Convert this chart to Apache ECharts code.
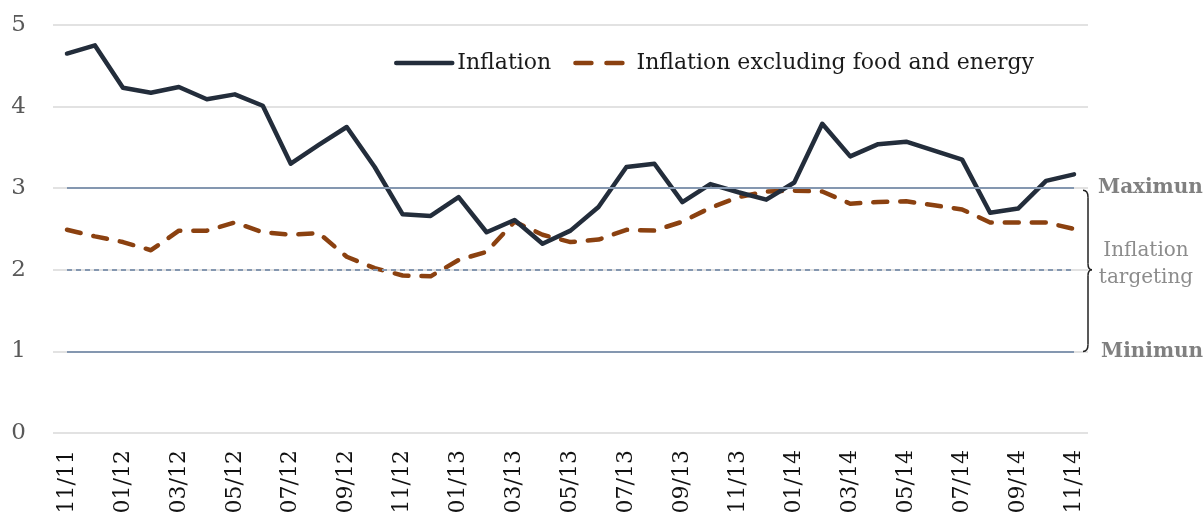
<!DOCTYPE html>
<html>
<head>
<meta charset="utf-8">
<script src="https://cdn.jsdelivr.net/npm/echarts@6/dist/echarts.min.js"></script>
<style>
html,body{margin:0;padding:0;background:#fff;}
#main{width:1203px;height:518px;}
</style>
</head>
<body>
<div id="main"></div>
<script>
const categories = ['11/11','12/11','01/12','02/12','03/12','04/12','05/12','06/12','07/12','08/12','09/12','10/12',
  '11/12','12/12','01/13','02/13','03/13','04/13','05/13','06/13','07/13','08/13','09/13','10/13',
  '11/13','12/13','01/14','02/14','03/14','04/14','05/14','06/14','07/14','08/14','09/14','10/14','11/14'];
const inflation = [4.65,4.75,4.23,4.17,4.24,4.09,4.15,4.01,3.30,3.53,3.75,3.26,
  2.68,2.66,2.89,2.46,2.61,2.32,2.48,2.77,3.26,3.30,2.83,3.05,
  2.95,2.86,3.07,3.79,3.39,3.54,3.57,3.46,3.35,2.70,2.75,3.09,3.17];
const inflationCore = [2.49,2.41,2.34,2.24,2.48,2.48,2.58,2.46,2.43,2.45,2.16,2.02,
  1.93,1.92,2.12,2.22,2.59,2.43,2.34,2.37,2.49,2.48,2.59,2.76,
  2.89,2.96,2.97,2.96,2.81,2.83,2.84,2.79,2.74,2.58,2.58,2.58,2.50];
const seriesNames = ['Inflation','Inflation excluding food and energy'];
const targetValues = [3, 2, 1];          // maximum, target, minimum
const targetLabels = ['Maximun', 'Inflation\ntargeting', 'Minimun'];
const yTicks = [0,1,2,3,4,5];

const serif = 'DejaVu Serif';
const chart = echarts.init(document.getElementById('main'), null, {renderer:'canvas'});
const first = categories[0], last = categories[categories.length-1];
const refColor = '#8497b0';
const navy = '#232d3b', brown = '#8b4110';

const option = {
  animation:false,
  backgroundColor:'#fff',
  grid:{left:53, right:115, top:25, bottom:85},
  legend:{
    data:[
      {name:seriesNames[0], itemStyle:{opacity:0}, lineStyle:{width:4.5, color:navy, cap:'round'}},
      {name:seriesNames[1], itemStyle:{opacity:0}, lineStyle:{width:4.5, color:brown, type:[16,15], cap:'round'}}
    ],
    top:47, left:389,
    itemWidth:56, itemHeight:14, itemGap:22,
    textStyle:{fontFamily:serif, fontSize:22, color:'#1a1a1a'}
  },
  xAxis:{
    type:'category', data:categories, boundaryGap:true,
    axisLine:{show:false}, axisTick:{show:false},
    axisLabel:{interval:1, rotate:90, margin:17, fontFamily:serif, fontSize:22, color:'#111'}
  },
  yAxis:{
    type:'value', min:yTicks[0], max:yTicks[yTicks.length-1], interval:1,
    axisLine:{show:false}, axisTick:{show:false},
    axisLabel:{margin:27, fontFamily:serif, fontSize:23, color:'#595959'},
    splitLine:{lineStyle:{color:'#d9d9d9', width:1.5}}
  },
  series:[
    {
      name:'refs', type:'line', data:[], z:1, silent:true,
      markLine:{
        silent:true, symbol:['none','none'], label:{show:false},
        data:targetValues.map((v,i)=>[
          {coord:[first, v], lineStyle:{color:refColor, width:2, type: i===1 ? [5,4] : 'solid'}},
          {coord:[last, v]}
        ])
      }
    },
    {
      name:seriesNames[0], type:'line', data:inflation, z:3,
      symbol:'none', color:navy,
      lineStyle:{width:4.5, color:navy, cap:'round', join:'round'}
    },
    {
      name:seriesNames[1], type:'line', data:inflationCore, z:2,
      symbol:'none', color:brown,
      lineStyle:{width:4.5, color:brown, type:[14,13], cap:'round', join:'round'}
    }
  ]
};
chart.setOption(option);

// right-side annotations positioned from the axis scale
const pMax = chart.convertToPixel({gridIndex:0}, [last, targetValues[0]]);
const pMid = chart.convertToPixel({gridIndex:0}, [last, targetValues[1]]);
const pMin = chart.convertToPixel({gridIndex:0}, [last, targetValues[2]]);
const bx = 1083, bw = 5;
const yA = pMax[1] + 2, yM = pMid[1], yB = pMin[1];
const braceStyle = {stroke:'#222', lineWidth:1.5, fill:null};
chart.setOption({
  graphic:[
    {type:'bezierCurve', shape:{x1:bx, y1:yA, cpx1:bx+bw, cpy1:yA, x2:bx+bw, y2:yA+7}, style:braceStyle},
    {type:'line', shape:{x1:bx+bw, y1:yA+7, x2:bx+bw, y2:yM-6}, style:braceStyle},
    {type:'bezierCurve', shape:{x1:bx+bw, y1:yM-6, cpx1:bx+bw, cpy1:yM, x2:bx+bw+4, y2:yM}, style:braceStyle},
    {type:'bezierCurve', shape:{x1:bx+bw+4, y1:yM, cpx1:bx+bw, cpy1:yM, x2:bx+bw, y2:yM+6}, style:braceStyle},
    {type:'line', shape:{x1:bx+bw, y1:yM+6, x2:bx+bw, y2:yB-7}, style:braceStyle},
    {type:'bezierCurve', shape:{x1:bx+bw, y1:yB-7, cpx1:bx+bw, cpy1:yB, x2:bx, y2:yB}, style:braceStyle},
    {type:'text', x:1098, y:pMax[1], style:{text:targetLabels[0], font:`bold 20px "${serif}"`, fill:'#808080', textVerticalAlign:'middle'}},
    {type:'text', x:1146, y:pMid[1]-6, style:{text:targetLabels[1], font:`20px "${serif}"`, fill:'#8c8c8c', textAlign:'center', textVerticalAlign:'middle', lineHeight:27}},
    {type:'text', x:1101, y:pMin[1], style:{text:targetLabels[2], font:`bold 20px "${serif}"`, fill:'#808080', textVerticalAlign:'middle'}}
  ]
});
</script>
</body>
</html>
